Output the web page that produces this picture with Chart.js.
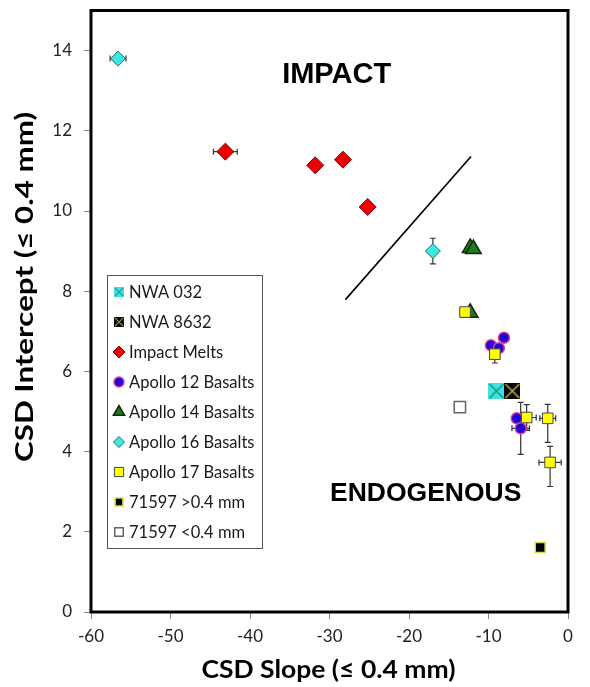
<!DOCTYPE html>
<html>
<head>
<meta charset="utf-8">
<script src="https://cdn.jsdelivr.net/npm/chart.js@4.4.0/dist/chart.umd.min.js"></script>
<style>
body { margin: 0; background: #fff; }
</style>
</head>
<body>
<canvas id="myChart" width="590" height="687"></canvas>
<script>
// values (x = CSD slope, y = CSD intercept)
const xTicks = [-60, -50, -40, -30, -20, -10, 0];
const yTicks = [0, 2, 4, 6, 8, 10, 12, 14];
const seriesNames = ['NWA 032', 'NWA 8632', 'Impact Melts', 'Apollo 12 Basalts', 'Apollo 14 Basalts',
	'Apollo 16 Basalts', 'Apollo 17 Basalts', '71597 >0.4 mm', '71597 <0.4 mm'];

const nwa032 = [{x: -9.0, y: 5.51}];
const nwa8632 = [{x: -7.0, y: 5.51}];
const impactMelts = [{x: -43.1, y: 11.48, xErr: 1.5}, {x: -31.8, y: 11.14}, {x: -28.3, y: 11.28}, {x: -25.2, y: 10.1}];
const apollo12 = [{x: -8.05, y: 6.84}, {x: -9.7, y: 6.65}, {x: -8.7, y: 6.58}, {x: -6.45, y: 4.83},
	{x: -5.95, y: 4.58, xErr: 1.1, yErr: 0.65}];
const apollo14 = [{x: -12.3, y: 9.08}, {x: -11.9, y: 9.05}, {x: -12.3, y: 7.46}];
const apollo16 = [{x: -56.6, y: 13.8, xErr: 1.0}, {x: -17.0, y: 9.0, xErr: 0.5, yErr: 0.32}];
const apollo17 = [{x: -12.95, y: 7.48}, {x: -9.2, y: 6.43, yErr: [0.22, 0]}, {x: -5.2, y: 4.85, xErr: 1.2, yErr: 0.32},
	{x: -2.55, y: 4.83, xErr: 1.0, yErr: [0.6, 0.35]}, {x: -2.25, y: 3.73, xErr: 1.4, yErr: [0.6, 0.4]}];
const coarse71597 = [{x: -3.5, y: 1.61}];
const fine71597 = [{x: -13.6, y: 5.11}];
const boundary = [{x: -28.0, y: 7.79}, {x: -12.2, y: 11.36}];

const xTitle = 'CSD Slope (≤ 0.4 mm)';
const yTitle = 'CSD Intercept (≤ 0.4 mm)';

function crossBox(size, fill, line) {
	var c = document.createElement('canvas');
	c.width = size; c.height = size;
	var g = c.getContext('2d');
	g.fillStyle = fill;
	g.fillRect(0, 0, size, size);
	g.strokeStyle = line;
	g.lineWidth = 1.5;
	g.beginPath();
	g.moveTo(1, 1); g.lineTo(size - 1, size - 1);
	g.moveTo(size - 1, 1); g.lineTo(1, size - 1);
	g.stroke();
	return c;
}

const nwa032Mark = crossBox(16, '#3fe3de', '#1c8f8c');
const nwa8632Mark = crossBox(16, '#0a0a0a', '#b4a84a');

function series(label, data, style, radius, fill, stroke, width, order) {
	return {
		label: label, data: data, pointStyle: style, pointRadius: radius, pointHoverRadius: radius,
		backgroundColor: fill, borderColor: stroke, borderWidth: width, order: order, showLine: false
	};
}

const datasets = [
	series(seriesNames[0], nwa032, nwa032Mark, 8, '#3fe3de', '#1c8f8c', 1, 1),
	series(seriesNames[1], nwa8632, nwa8632Mark, 8, '#0a0a0a', '#b4a84a', 1, 2),
	series(seriesNames[2], impactMelts, 'rectRot', 8.5, '#ee0000', '#7a0000', 1, 3),
	series(seriesNames[3], apollo12, 'circle', 5.5, '#2200dd', '#e0408a', 1.5, 6),
	series(seriesNames[4], apollo14, 'triangle', 9, '#1e7a1e', '#0a2a0a', 1.5, 7),
	series(seriesNames[5], apollo16, 'rectRot', 7.5, '#3ee8e0', '#2a6a6a', 1, 4),
	series(seriesNames[6], apollo17, 'rect', 7.5, '#ffff00', '#444444', 1, 5),
	series(seriesNames[7], coarse71597, 'rect', 7, '#000000', '#d8d840', 1.5, 8),
	series(seriesNames[8], fine71597, 'rect', 8, '#ffffff', '#666666', 1.5, 9),
	{label: 'boundary', data: boundary, showLine: true, pointRadius: 0, borderColor: '#000', borderWidth: 1.6, order: 10}
];

// legend marker sizes (smaller than the plotted ones)
const legendRadius = [5, 5, 6, 5, 6.5, 5.5, 6.5, 5.5, 6];

function errPair(v) {
	if (v === undefined) return null;
	return Array.isArray(v) ? v : [v, v];
}

const errorBars = {
	id: 'errorBars',
	beforeDatasetsDraw(chart) {
		var c = chart.ctx, xs = chart.scales.x, ys = chart.scales.y;
		c.save();
		c.strokeStyle = '#333';
		c.lineWidth = 1.2;
		chart.data.datasets.forEach(function (ds) {
			ds.data.forEach(function (p) {
				var px = xs.getPixelForValue(p.x), py = ys.getPixelForValue(p.y);
				var ex = errPair(p.xErr), ey = errPair(p.yErr);
				c.beginPath();
				if (ex) {
					var x0 = xs.getPixelForValue(p.x - ex[0]), x1 = xs.getPixelForValue(p.x + ex[1]);
					c.moveTo(x0, py); c.lineTo(x1, py);
					c.moveTo(x0, py - 3); c.lineTo(x0, py + 3);
					c.moveTo(x1, py - 3); c.lineTo(x1, py + 3);
				}
				if (ey) {
					var y0 = ys.getPixelForValue(p.y - ey[0]), y1 = ys.getPixelForValue(p.y + ey[1]);
					c.moveTo(px, y0); c.lineTo(px, y1);
					if (ey[0] > 0) { c.moveTo(px - 3, y0); c.lineTo(px + 3, y0); }
					if (ey[1] > 0) { c.moveTo(px - 3, y1); c.lineTo(px + 3, y1); }
				}
				c.stroke();
			});
		});
		c.restore();
	}
};

// draws text centred at (x, y), squeezed or stretched to a given length
function fitText(c, text, x, y, len, rot) {
	c.save();
	c.translate(x, y);
	c.rotate(rot);
	c.scale(len / c.measureText(text).width, 1);
	c.fillText(text, 0, 0);
	c.restore();
}

const frameAndNotes = {
	id: 'frameAndNotes',
	afterDraw(chart) {
		var c = chart.ctx, a = chart.chartArea, xs = chart.scales.x, ys = chart.scales.y;
		c.save();
		c.strokeStyle = '#000';
		c.lineWidth = 3;
		c.strokeRect(a.left, a.top, a.right - a.left, a.bottom - a.top);

		c.fillStyle = '#000';
		c.textAlign = 'center';
		c.textBaseline = 'middle';
		c.font = 'bold 29px "Liberation Sans", Arial, sans-serif';
		c.fillText('IMPACT', xs.getPixelForValue(-29.1), ys.getPixelForValue(13.4));
		c.font = 'bold 26.5px "Liberation Sans", Arial, sans-serif';
		c.fillText('ENDOGENOUS', xs.getPixelForValue(-17.9), ys.getPixelForValue(2.94));

		// axis titles
		c.font = 'bold 24px Lato, sans-serif';
		fitText(c, xTitle, (a.left + a.right) / 2 - 1, 670, 254, 0);
		fitText(c, yTitle, 25, 287, 350, -Math.PI / 2);

		// legend box inside the plot
		var lx = 107, ly = 275, lw = 155, lh = 273;
		c.fillStyle = '#fff';
		c.fillRect(lx, ly, lw, lh);
		c.strokeStyle = '#555';
		c.lineWidth = 1;
		c.strokeRect(lx + 0.5, ly + 0.5, lw, lh);
		c.font = '16.5px Lato, "Open Sans", sans-serif';
		c.textAlign = 'left';
		for (var i = 0; i < seriesNames.length; i++) {
			var ds = chart.data.datasets[i];
			var my = ly + 17 + i * 30, mx = lx + 12;
			if (typeof ds.pointStyle === 'string') {
				c.fillStyle = ds.backgroundColor;
				c.strokeStyle = ds.borderColor;
				c.lineWidth = ds.borderWidth;
				Chart.helpers.drawPoint(c, {pointStyle: ds.pointStyle, radius: legendRadius[i], borderWidth: ds.borderWidth, rotation: 0}, mx, my);
			} else {
				var s = legendRadius[i] * 2;
				c.drawImage(ds.pointStyle, mx - s / 2, my - s / 2, s, s);
			}
			c.fillStyle = '#1a1a1a';
			c.fillText(seriesNames[i], lx + 22, my + 1);
		}
		c.restore();
	}
};

const ctx = document.getElementById('myChart');

new Chart(ctx, {
	type: 'scatter',
	data: { datasets: datasets },
	plugins: [errorBars, frameAndNotes],
	options: {
		responsive: false,
		animation: false,
		devicePixelRatio: 1,
		layout: { padding: { top: 10, right: 22, left: 0, bottom: 0 } },
		plugins: { legend: { display: false }, tooltip: { enabled: false } },
		scales: {
			x: {
				type: 'linear', min: -60, max: 0,
				afterFit: function (s) { s.height = 75; s.paddingLeft = 0; s.paddingRight = 0; },
				afterBuildTicks: function (s) { s.ticks = xTicks.map(function (v) { return {value: v}; }); },
				grid: { display: true, drawOnChartArea: false, tickLength: 7, color: '#888', tickWidth: 1 },
				border: { display: false },
				ticks: { padding: 7, color: '#222', font: { family: 'Lato', size: 17 } },
				title: { display: false }
			},
			y: {
				type: 'linear', min: 0, max: 15,
				afterFit: function (s) { s.width = 91; s.paddingTop = 0; s.paddingBottom = 0; },
				afterBuildTicks: function (s) { s.ticks = yTicks.map(function (v) { return {value: v}; }); },
				grid: { display: true, drawOnChartArea: false, tickLength: 7, color: '#888', tickWidth: 1 },
				border: { display: false },
				ticks: { padding: 12, color: '#222', font: { family: 'Lato', size: 17 } },
				title: { display: false }
			}
		}
	}
});
</script>
</body>
</html>
